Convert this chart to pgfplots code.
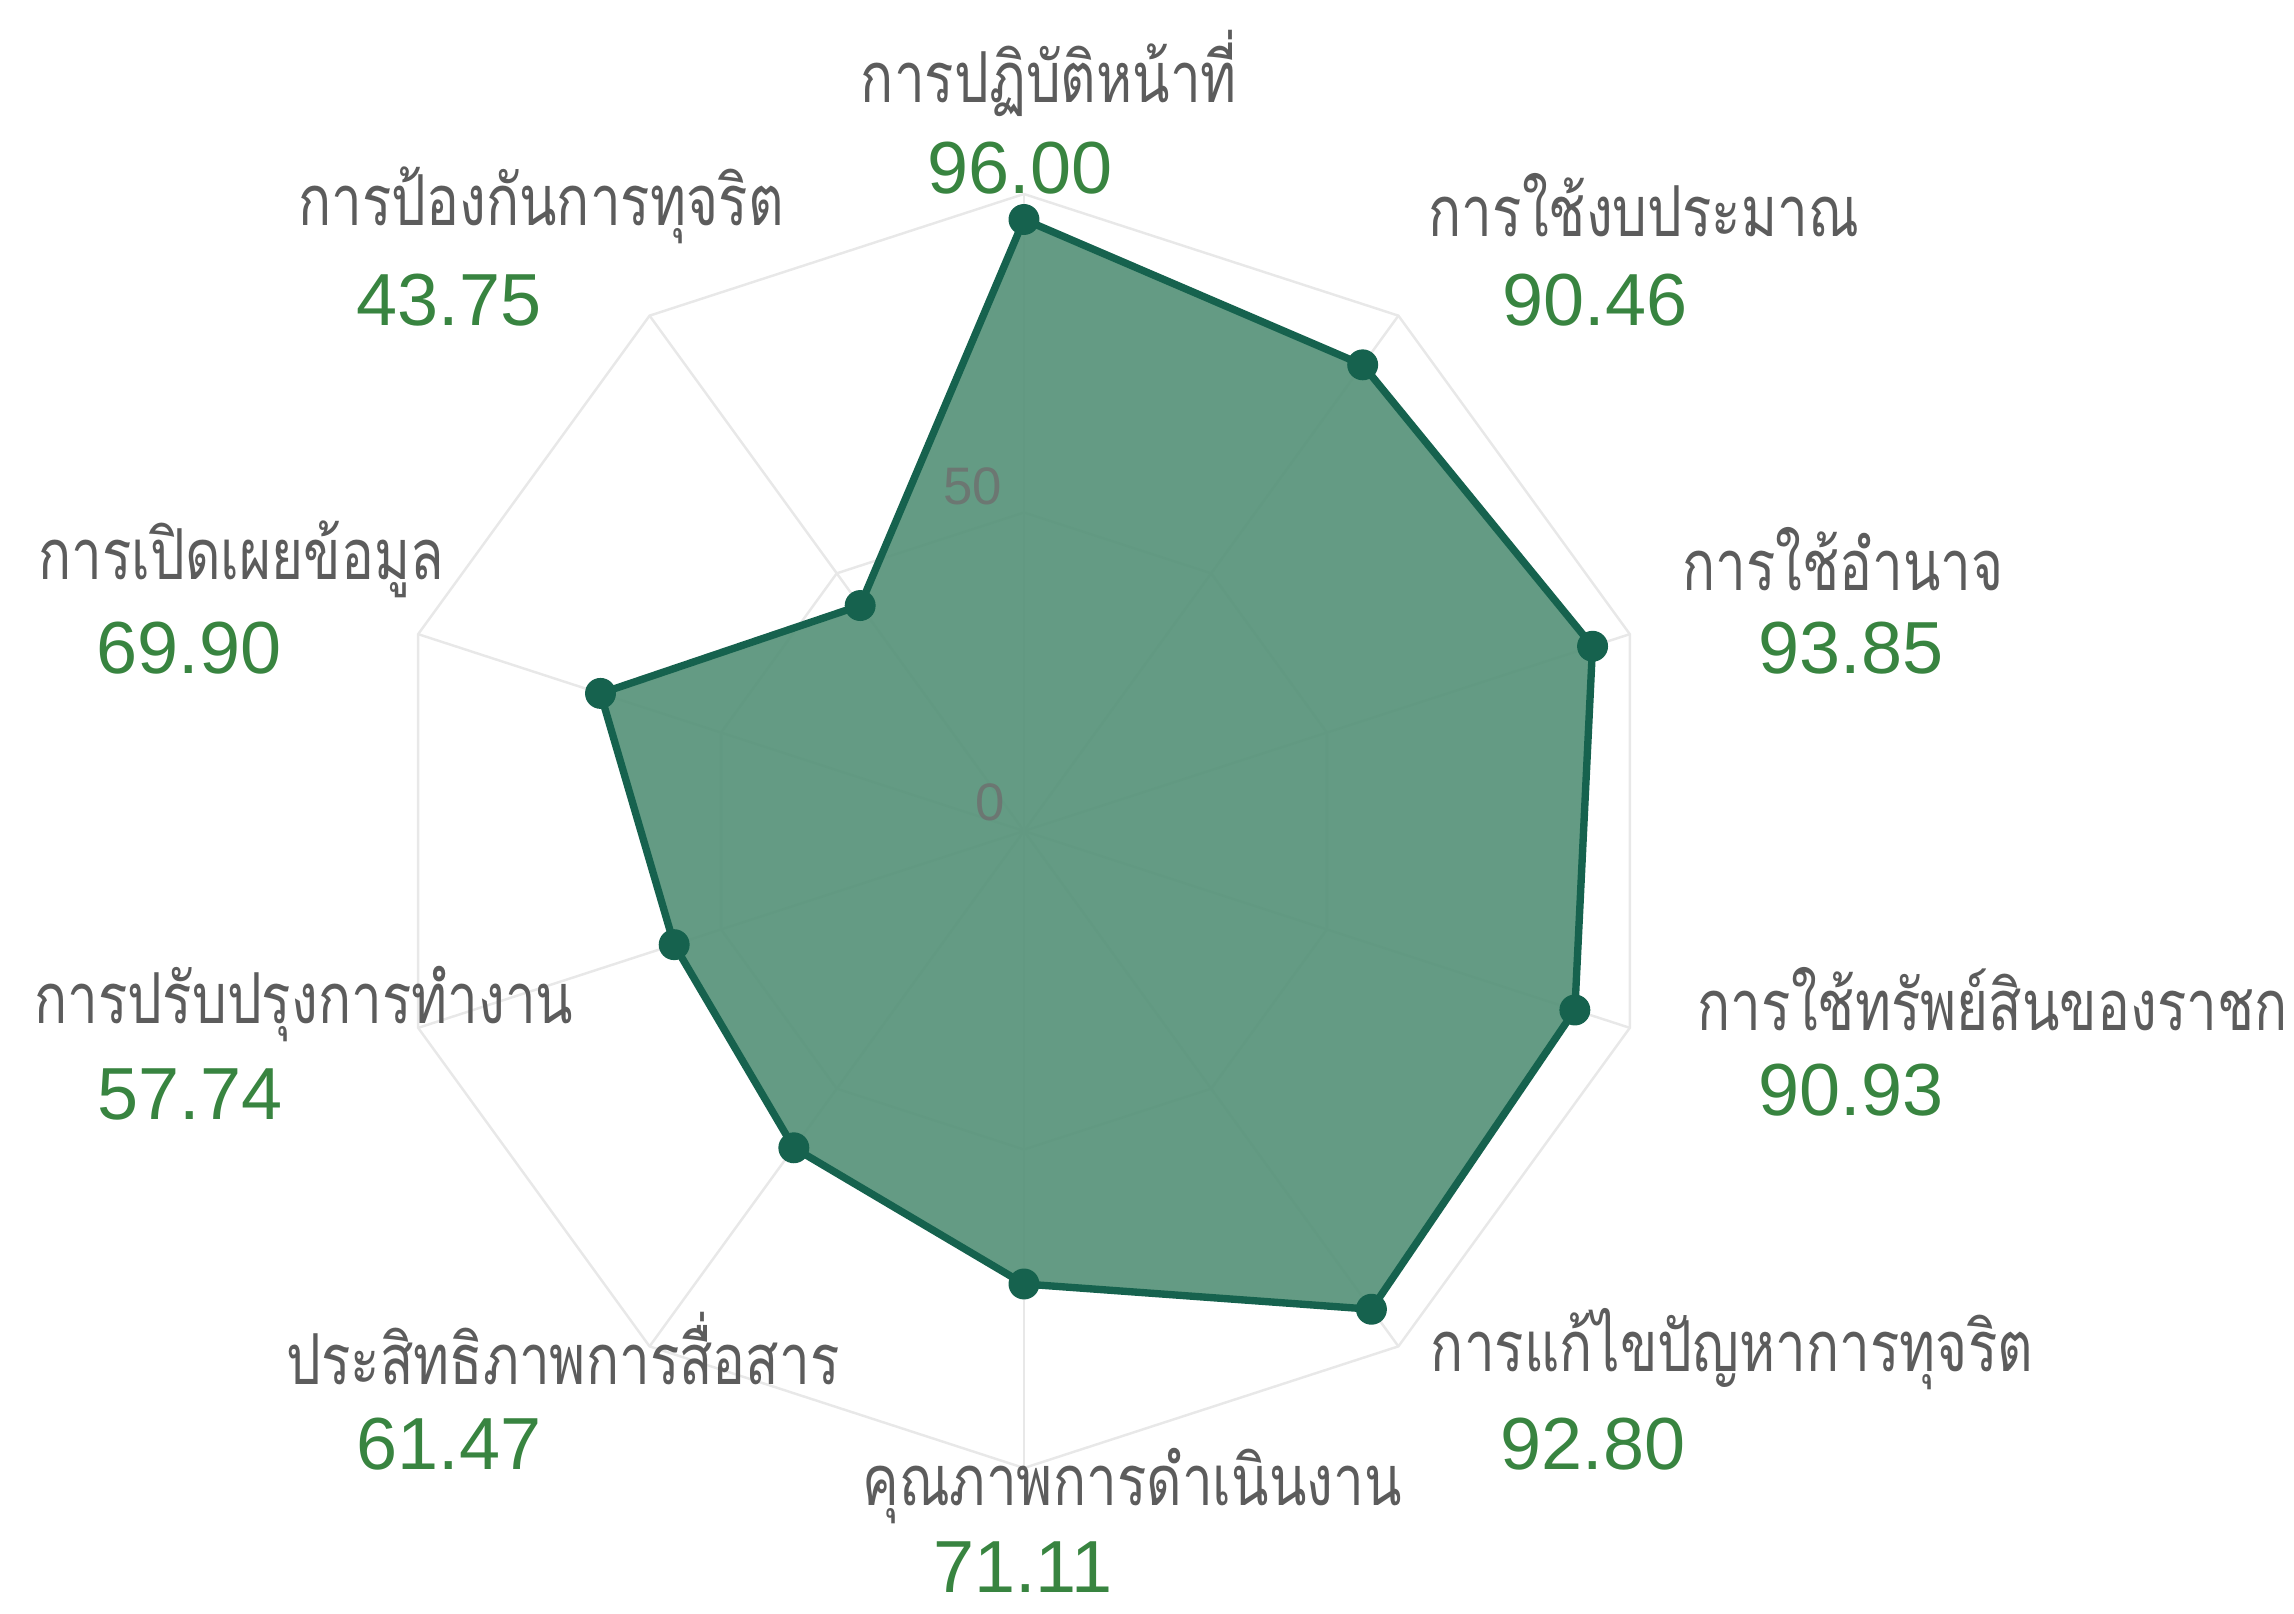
\documentclass[border=0pt]{standalone}
\usepackage{fontspec}
\setmainfont[Script=Thai]{Loma}
\newfontfamily\namef[Script=Thai, FakeStretch=0.78]{Loma}
\newfontfamily\numf{Liberation Sans}
\usepackage{pgfplots}
\pgfplotsset{compat=1.18}
\usepackage{pgfplotstable}
\usepgfplotslibrary{polar}
\usetikzlibrary{calc}
\definecolor{fillc}{RGB}{90,149,124}
\definecolor{linec}{RGB}{22,98,78}
\definecolor{gridc}{RGB}{232,232,232}
\definecolor{namec}{RGB}{92,92,92}
\definecolor{valc}{RGB}{56,132,64}
\definecolor{tickc}{RGB}{110,110,110}

\pgfplotstableread{
angle value
90  96.00
54  90.46
18  93.85
342 90.93
306 92.80
270 71.11
234 61.47
198 57.74
162 69.90
126 43.75
}\scores

\pgfplotstableread{
angle value
90  96.00
54  90.46
18  93.85
342 90.93
306 92.80
270 71.11
234 61.47
198 57.74
162 69.90
126 43.75
90  96.00
}\scoresclosed

\newcommand{\namefont}{\namef\fontsize{20}{24}\selectfont}
\newcommand{\valfont}{\numf\fontsize{21}{25}\selectfont}

\begin{document}
\begin{tikzpicture}
\path[use as bounding box] (-10.24,-7.82) rectangle (12.70,8.31);
\begin{polaraxis}[
  at={(0,0)}, anchor=center,
  hide axis,
  scale only axis,
  width=12.74cm, height=12.74cm,
  ymin=0, ymax=100,
  clip=false,
]
% grid rings
\addplot[gridc, line width=0.7pt, no markers] coordinates {(90,100) (54,100) (18,100) (342,100) (306,100) (270,100) (234,100) (198,100) (162,100) (126,100) (90,100)};
\addplot[gridc, line width=0.7pt, no markers] coordinates {(90,50) (54,50) (18,50) (342,50) (306,50) (270,50) (234,50) (198,50) (162,50) (126,50) (90,50)};
% spokes
\pgfplotsinvokeforeach{90,54,18,342,306,270,234,198,162,126}{
  \addplot[gridc, line width=0.7pt, no markers] coordinates {(#1,0) (#1,100)};
}
% data area
\addplot[draw=linec, line width=2.1pt, fill=fillc, fill opacity=0.94, no markers] table[x=angle, y=value] {\scoresclosed};
\addplot[only marks, mark=*, mark size=4.2pt, mark options={fill=linec, draw=linec}] table[x=angle, y=value] {\scores};
\coordinate (C) at (axis cs:0,0);
\end{polaraxis}

% radial tick labels
\node[text=tickc, font=\numf\fontsize{15}{18}\selectfont, opacity=0.8] at ($(C)+(-0.51,3.45)$) {50};
\node[text=tickc, font=\numf\fontsize{15}{18}\selectfont, opacity=0.8] at ($(C)+(-0.34,0.29)$) {0};

% point labels
\node[text=namec, font=\namefont] at ($(C)+(0.25,7.58)$) {การปฏิบัติหน้าที่};
\node[text=valc, font=\valfont] at ($(C)+(-0.04,6.63)$) {96.00};

\node[text=namec, font=\namefont] at ($(C)+(6.20,6.26)$) {การใช้งบประมาณ};
\node[text=valc, font=\valfont] at ($(C)+(5.71,5.31)$) {90.46};

\node[text=namec, font=\namefont] at ($(C)+(8.19,2.72)$) {การใช้อำนาจ};
\node[text=valc, font=\valfont] at ($(C)+(8.27,1.83)$) {93.85};

\node[text=namec, font=\namefont, anchor=west, inner sep=0pt] at ($(C)+(6.73,-1.68)$) {การใช้ทรัพย์สินของราชก};
\node[text=valc, font=\valfont] at ($(C)+(8.27,-2.59)$) {90.93};

\node[text=namec, font=\namefont] at ($(C)+(7.08,-5.18)$) {การแก้ไขปัญหาการทุจริต};
\node[text=valc, font=\valfont] at ($(C)+(5.69,-6.13)$) {92.80};

\node[text=namec, font=\namefont] at ($(C)+(1.08,-6.55)$) {คุณภาพการดำเนินงาน};
\node[text=valc, font=\valfont, inner sep=0pt] at ($(C)+(-0.01,-7.36)$) {71.11};

\node[text=namec, font=\namefont] at ($(C)+(-4.61,-5.18)$) {ประสิทธิภาพการสื่อสาร};
\node[text=valc, font=\valfont] at ($(C)+(-5.75,-6.13)$) {61.47};

\node[text=namec, font=\namefont] at ($(C)+(-7.20,-1.73)$) {การปรับปรุงการทำงาน};
\node[text=valc, font=\valfont] at ($(C)+(-8.34,-2.63)$) {57.74};

\node[text=namec, font=\namefont] at ($(C)+(-7.83,2.72)$) {การเปิดเผยข้อมูล};
\node[text=valc, font=\valfont] at ($(C)+(-8.35,1.83)$) {69.90};

\node[text=namec, font=\namefont] at ($(C)+(-4.83,6.26)$) {การป้องกันการทุจริต};
\node[text=valc, font=\valfont] at ($(C)+(-5.75,5.31)$) {43.75};
\end{tikzpicture}
\end{document}
